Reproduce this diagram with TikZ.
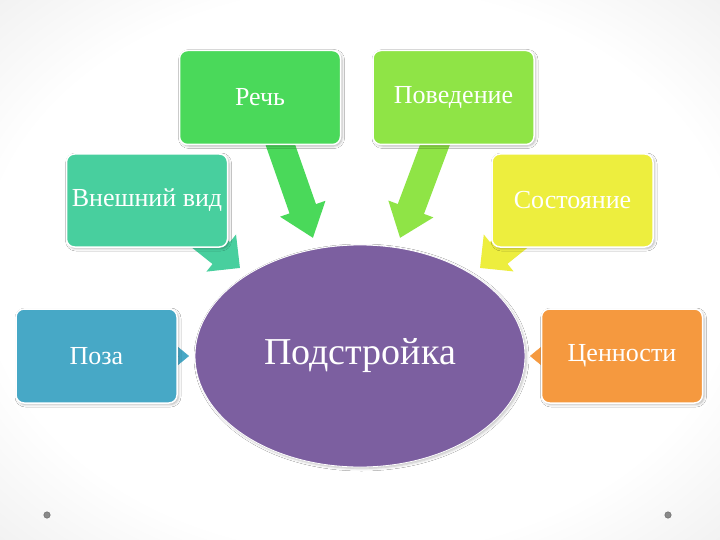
\documentclass[tikz,border=0pt]{standalone}
\usepackage{fontspec}
\setmainfont{Liberation Serif}
\usepackage{tikz}
\usetikzlibrary{shapes.geometric}
\usetikzlibrary{arrows.meta}
\usetikzlibrary{shadows.blur}
\usetikzlibrary{backgrounds}
\definecolor{rechbg}{HTML}{4AD95A}
\definecolor{povbg}{HTML}{8FE446}
\definecolor{vidbg}{HTML}{48CF9E}
\definecolor{sostbg}{HTML}{EDEE3E}
\definecolor{pozabg}{HTML}{47A8C6}
\definecolor{cennbg}{HTML}{F5993F}
\definecolor{centerbg}{HTML}{7C5FA0}
\definecolor{dotgray}{HTML}{8A8A8A}
\pgfdeclareradialshading{vignette}{\pgfpoint{0bp}{0bp}}{color(0bp)=(white); color(26bp)=(white); color(50bp)=(black!13); color(72bp)=(black!22)}

\begin{document}
\begin{tikzpicture}[x=1pt, y=-1pt,
box/.style = {shape=rectangle, rounded corners=8pt, draw=white, line width=1.5pt,
  minimum width=161pt, minimum height=94pt, text=white, align=center,
  font=\fontsize{26}{29}\selectfont,
  blur shadow={shadow xshift=1.5pt, shadow yshift=-1.5pt, shadow blur radius=2.5pt, shadow opacity=30}},
center/.style = {shape=ellipse, draw=white, line width=0.8pt, fill=centerbg,
  minimum width=330pt, minimum height=222pt, text=white,
  font=\fontsize{38}{42}\selectfont,
  blur shadow={shadow xshift=1.5pt, shadow yshift=-1.5pt, shadow blur radius=2.5pt, shadow opacity=25}},
bigarrow/.style = {line width=28pt, -{Triangle[length=31pt, width=46pt]}},
cornerarrow/.style = {line width=28pt, -{Triangle[length=24pt, width=46pt]}},
smallarrow/.style = {line width=0.5pt, -{Triangle[length=11pt, width=18pt]}},
dot/.style = {shape=circle, fill=dotgray, draw=dotgray!70!black, line width=0.4pt,
  inner sep=0pt, minimum size=6.5pt}
]
\useasboundingbox (0,0) rectangle (720,540);

\node [box, fill=rechbg] (rech) at (260,97.5) {Речь};
\node [box, fill=povbg] (pov) at (453.5,97.5) {Поведение};
\node [box, fill=vidbg, minimum height=93pt] (vid) at (147,200.5) {Внешний вид};
\node [box, fill=sostbg, minimum height=93pt] (sost) at (572.5,200.5) {Состояние};
\node [box, fill=pozabg] (poza) at (96.5,356) {Поза};
\node [box, fill=cennbg] (cenn) at (622,356) {Ценности};
\node [center] (podstr) at (360,356) {Подстройка};

\node [dot] (dotl) at (47,515) {};
\node [dot] (dotr) at (668,515) {};

\coordinate (tiprech) at (313,238);
\coordinate (tippov) at (400,238);
\coordinate (tipvid) at (240,268);
\coordinate (tipsost) at (480,268);
\coordinate (tippoza) at (189,356);
\coordinate (tipcenn) at (530,356);

\begin{scope}[on background layer]
\fill [shading=vignette] (0,0) rectangle (720,540);
\draw [bigarrow, rechbg] ([xshift=17pt,yshift=10pt]rech.south) -- (tiprech);
\draw [bigarrow, povbg] ([xshift=-15pt,yshift=10pt]pov.south) -- (tippov);
\draw [cornerarrow, vidbg] ([xshift=-30pt,yshift=13pt]vid.south east) -- (tipvid);
\draw [cornerarrow, sostbg] ([xshift=30pt,yshift=13pt]sost.south west) -- (tipsost);
\draw [smallarrow, pozabg] (poza.east) -- (tippoza);
\draw [smallarrow, cennbg] (cenn.west) -- (tipcenn);
\end{scope}

\end{tikzpicture}
\end{document}
